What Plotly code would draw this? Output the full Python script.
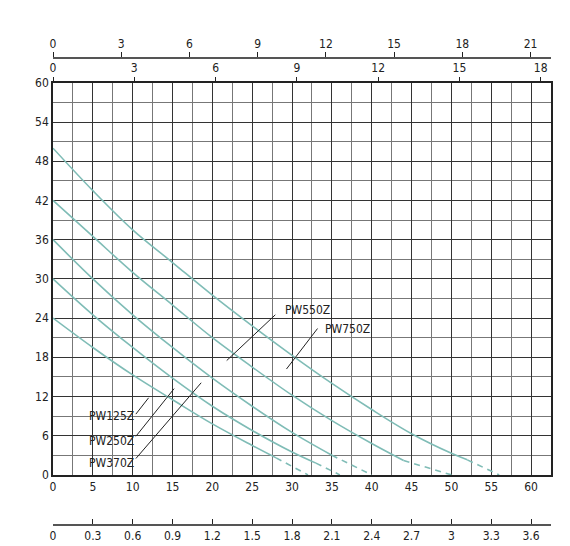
import plotly.graph_objects as go

# flow (L/min) vs head (m); solid part then dashed tail
models = ["PW125Z", "PW250Z", "PW370Z", "PW550Z", "PW750Z"]
q_solid = [
    [0, 5, 10, 15, 20, 25, 28],
    [0, 5, 10, 15, 20, 25, 30, 33],
    [0, 5, 10, 15, 20, 25, 30, 35],
    [0, 5, 10, 15, 20, 25, 30, 35, 40, 44],
    [0, 5, 10, 15, 20, 25, 30, 35, 40, 45, 50, 52],
]
h_solid = [
    [24, 19.5, 15.3, 11.5, 7.8, 4.5, 2.6],
    [30, 24.5, 19.5, 14.8, 10.5, 6.8, 3.5, 1.8],
    [36, 30, 24.5, 19.5, 14.8, 10.5, 6.5, 3.0],
    [42, 36.5, 31, 26, 21, 16.5, 12.2, 8.3, 4.8, 2.2],
    [50, 43.5, 37.5, 32.5, 27.5, 22.8, 18.3, 14, 10, 6.3, 3.3, 2.3],
]
q_dash = [[28, 32], [33, 36], [35, 40], [44, 50], [52, 56]]
h_dash = [[2.6, 0], [1.8, 0], [3.0, 0], [2.2, 0], [2.3, 0]]

# label text position and pointer line (from, to)
label_xy = [(7.4, 9.0), (7.4, 5.2), (7.4, 1.8), (32.0, 25.3), (37.0, 22.4)]
pointer = [((10.4, 9.3), (12.0, 11.8)), ((10.4, 5.9), (15.2, 13.2)),
           ((10.4, 2.5), (18.6, 14.1)), ((27.9, 24.5), (21.8, 17.5)),
           ((33.2, 22.4), (29.3, 16.2))]

curve_color = "#7fbcb6"
font = dict(family="Liberation Sans Narrow, DejaVu Sans Condensed, Arial", size=12, color="#222")

fig = go.Figure()
for i, m in enumerate(models):
    fig.add_trace(go.Scatter(x=q_solid[i], y=h_solid[i], mode="lines", line=dict(color=curve_color, width=1.6, shape="spline"), name=m))
    fig.add_trace(go.Scatter(x=q_dash[i], y=h_dash[i], mode="lines", line=dict(color=curve_color, width=1.6, dash="6px,5px"), name=m))
    (x0, y0), (x1, y1) = pointer[i]
    fig.add_shape(type="line", x0=x0, y0=y0, x1=x1, y1=y1, line=dict(color="#222", width=1))
    fig.add_annotation(x=label_xy[i][0], y=label_xy[i][1], text=m, showarrow=False, font=font)

# dummy traces so the extra axes show
fig.add_trace(go.Scatter(x=[0], y=[0], xaxis="x2", mode="markers", marker=dict(opacity=0), hoverinfo="skip"))
fig.add_trace(go.Scatter(x=[0], y=[0], xaxis="x3", mode="markers", marker=dict(opacity=0), hoverinfo="skip"))
fig.add_trace(go.Scatter(x=[0], y=[0], xaxis="x4", mode="markers", marker=dict(opacity=0), hoverinfo="skip"))

fig.update_layout(
    width=570, height=546, showlegend=False,
    paper_bgcolor="white", plot_bgcolor="white",
    margin=dict(l=45, r=27, t=40, b=22),
    font=font,
    xaxis=dict(range=[0, 62.5], tickvals=list(range(0, 61, 5)), ticks="", automargin=False,
               minor=dict(dtick=2.5, showgrid=True, gridcolor="#777"), showgrid=True, gridcolor="#333",
               gridwidth=1.2, showline=True, linecolor="#222", linewidth=1.5, mirror=True, zeroline=False),
    yaxis=dict(range=[0, 60], dtick=6, domain=[0.118, 0.928], ticks="", automargin=False,
               minor=dict(dtick=3, showgrid=True, gridcolor="#777"), showgrid=True, gridcolor="#333",
               gridwidth=1.2, showline=True, linecolor="#222", linewidth=1.5, mirror=True, zeroline=False),
    xaxis2=dict(overlaying="x", side="top", anchor="y", range=[0, 18.38], dtick=3, automargin=False,
                ticks="outside", ticklen=5, tickcolor="#222", showgrid=False, zeroline=False),
    xaxis3=dict(overlaying="x", side="top", anchor="free", position=0.979, range=[0, 21.9], dtick=3,
                automargin=False, ticks="outside", ticklen=5, tickcolor="#222", showline=True,
                linecolor="#555", linewidth=1.5, showgrid=False, zeroline=False),
    xaxis4=dict(overlaying="x", side="bottom", anchor="free", position=0.0145, range=[0, 3.75],
                tickvals=[0, 0.3, 0.6, 0.9, 1.2, 1.5, 1.8, 2.1, 2.4, 2.7, 3, 3.3, 3.6],
                ticktext=["0", "0.3", "0.6", "0.9", "1.2", "1.5", "1.8", "2.1", "2.4", "2.7", "3", "3.3", "3.6"],
                automargin=False, ticks="inside", ticklen=5, tickcolor="#222", showline=True,
                linecolor="#555", linewidth=1.5, showgrid=False, zeroline=False),
)
fig.write_html("out.html")
